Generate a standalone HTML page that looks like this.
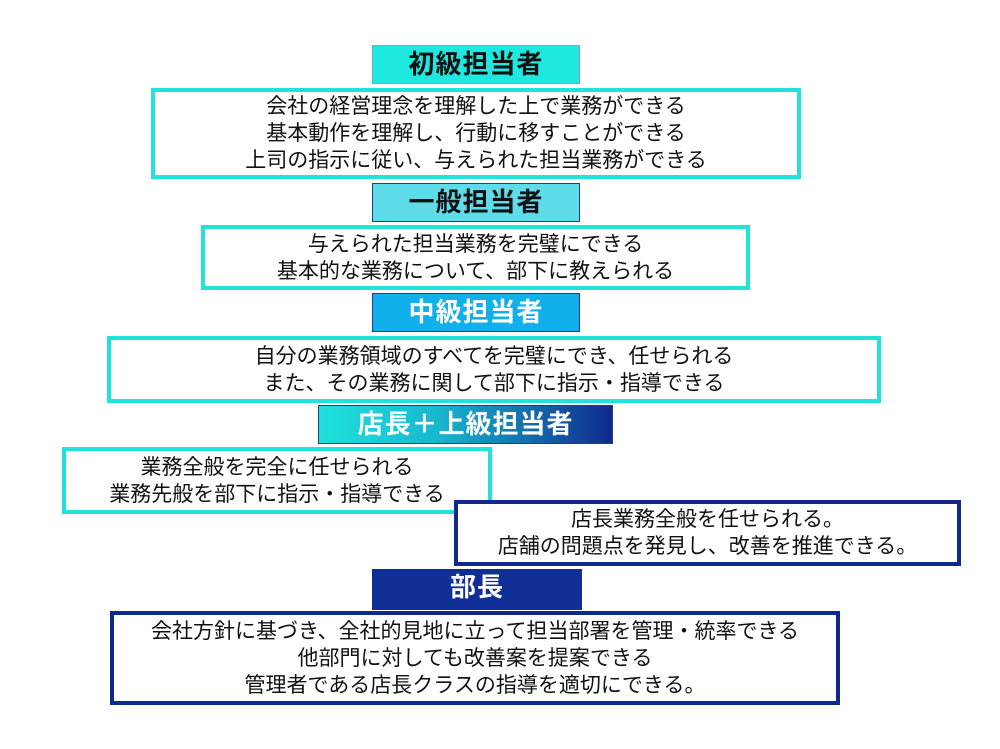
<!DOCTYPE html>
<html><head><meta charset="utf-8"><style>
body{margin:0;width:1000px;height:749px;background:#fff;position:relative;overflow:hidden;font-family:"Liberation Sans","Noto Sans CJK JP",sans-serif}
.h{position:absolute;box-sizing:border-box;text-align:center;font-weight:bold;font-size:26px;letter-spacing:1px;line-height:36px;border:1px solid #2a3a8a}
.b{position:absolute;box-sizing:border-box;background:#fff;text-align:center;font-size:21px;line-height:27px;color:#111;display:flex;flex-direction:column;justify-content:center;white-space:nowrap}
.c{border:4px solid #22e3dc}
.n{border:4px solid #0f2a8c}
</style></head><body>
<div class="h" style="left:372px;top:45px;width:208px;height:39px;background:#1ee8df;color:#111;border-color:#7ac">初級担当者</div>
<div class="b c" style="left:151px;top:88px;width:650px;height:91px">会社の経営理念を理解した上で業務ができる<br>基本動作を理解し、行動に移すことができる<br>上司の指示に従い、与えられた担当業務ができる</div>
<div class="h" style="left:372px;top:183px;width:208px;height:39px;background:#5fdce9;color:#111">一般担当者</div>
<div class="b c" style="left:201px;top:225px;width:549px;height:65px">与えられた担当業務を完璧にできる<br>基本的な業務について、部下に教えられる</div>
<div class="h" style="left:372px;top:293px;width:208px;height:39px;background:#0fb0ec;color:#fff">中級担当者</div>
<div class="b c" style="left:107px;top:336px;width:774px;height:67px">自分の業務領域のすべてを完璧にでき、任せられる<br>また、その業務に関して部下に指示・指導できる</div>
<div class="h" style="left:318px;top:405px;width:295px;height:39px;background:linear-gradient(90deg,#1ee2dc 0%,#18b8d0 40%,#0f2a8c 100%);color:#fff">店長＋上級担当者</div>
<div class="b c" style="left:62px;top:447px;width:430px;height:67px">業務全般を完全に任せられる<br>業務先般を部下に指示・指導できる</div>
<div class="b n" style="left:454px;top:500px;width:507px;height:66px">店長業務全般を任せられる。<br>店舗の問題点を発見し、改善を推進できる。</div>
<div class="h" style="left:372px;top:569px;width:210px;height:41px;background:#0f2f96;color:#fff;border:none">部長</div>
<div class="b n" style="left:110px;top:611px;width:730px;height:94px">会社方針に基づき、全社的見地に立って担当部署を管理・統率できる<br>他部門に対しても改善案を提案できる<br>管理者である店長クラスの指導を適切にできる。</div>
</body></html>
